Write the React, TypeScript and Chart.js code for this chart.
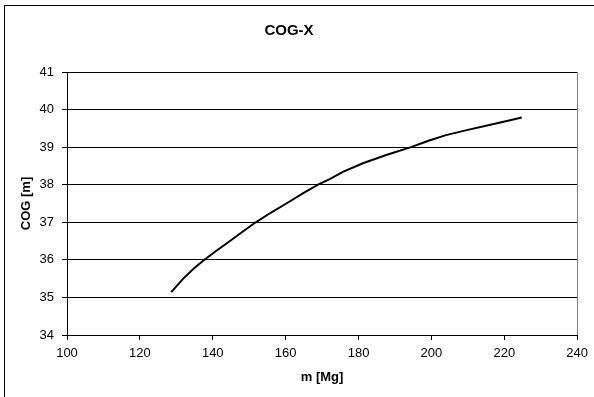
import React, { useEffect, useRef } from "react";
import { Chart, registerables } from "chart.js";

Chart.register(...registerables);

const massMg: number[] = [128.6, 131.9, 134.8, 137.8, 140.8, 143.7, 147.8, 151.8, 156.0, 160.2, 164.6, 168.9, 172.1, 175.7, 181.2, 187.6, 194.4, 199.2, 204.0, 210.0, 215.9, 220.4, 224.8];
const cogM: number[] = [35.14, 35.50, 35.77, 36.01, 36.23, 36.43, 36.72, 37.00, 37.26, 37.50, 37.76, 38.00, 38.15, 38.34, 38.57, 38.79, 39.00, 39.17, 39.32, 39.46, 39.59, 39.69, 39.79];

const xTicks: number[] = [100, 120, 140, 160, 180, 200, 220, 240];
const yTicks: number[] = [34, 35, 36, 37, 38, 39, 40, 41];

const chartTitle = "COG-X";
const xTitle = "m [Mg]";
const yTitle = "COG [m]";

const FONT = "'Liberation Sans', Arial, sans-serif";

export default function App() {
  const ref = useRef<HTMLCanvasElement | null>(null);

  useEffect(() => {
    if (!ref.current) return;
    const borderPlugin = {
      id: "plotBorder",
      afterDraw(chart: any) {
        const { ctx, chartArea } = chart;
        ctx.save();
        ctx.strokeStyle = "#808080";
        ctx.lineWidth = 1;
        ctx.beginPath();
        ctx.moveTo(Math.round(chartArea.right) + 0.5, chartArea.top);
        ctx.lineTo(Math.round(chartArea.right) + 0.5, chartArea.bottom);
        ctx.stroke();
        ctx.restore();
      },
    };
    const chart = new Chart(ref.current, {
      type: "line",
      data: {
        datasets: [
          {
            data: massMg.map((m, i) => ({ x: m, y: cogM[i] })),
            borderColor: "#000",
            borderWidth: 2,
            pointRadius: 0,
            tension: 0,
            fill: false,
          },
        ],
      },
      options: {
        responsive: false,
        animation: false,
        layout: { padding: { left: 0, right: 16, top: 0, bottom: 0 } },
        plugins: {
          legend: { display: false },
          tooltip: { enabled: false },
          title: {
            display: true,
            text: chartTitle,
            color: "#000",
            font: { family: FONT, size: 15, weight: "bold" },
            padding: { top: 22, bottom: 32 },
          },
        },
        scales: {
          x: {
            type: "linear",
            min: 100,
            max: 240,
            afterBuildTicks(scale: any) {
              scale.ticks = xTicks.map((v) => ({ value: v }));
            },
            afterFit(scale: any) {
              scale.height = 62;
            },
            ticks: {
              color: "#000",
              font: { family: FONT, size: 13 },
              padding: 6,
              maxRotation: 0,
            },
            grid: {
              drawOnChartArea: false,
              drawTicks: true,
              tickLength: 5,
              color: "#000",
            },
            border: { display: true, color: "#000", width: 1 },
            title: {
              display: true,
              text: xTitle,
              color: "#000",
              font: { family: FONT, size: 13, weight: "bold" },
              padding: { top: 0, bottom: 12 },
            },
          },
          y: {
            type: "linear",
            min: 34,
            max: 41,
            afterBuildTicks(scale: any) {
              scale.ticks = yTicks.map((v) => ({ value: v }));
            },
            afterFit(scale: any) {
              scale.width = 67;
            },
            ticks: {
              color: "#000",
              font: { family: FONT, size: 13 },
              padding: 8,
            },
            grid: {
              drawOnChartArea: true,
              drawTicks: true,
              tickLength: 5,
              color: "#000",
            },
            border: { display: true, color: "#000", width: 1 },
            title: {
              display: true,
              text: yTitle,
              color: "#000",
              font: { family: FONT, size: 13, weight: "bold" },
              padding: { top: 19, bottom: 0 },
            },
          },
        },
      },
      plugins: [borderPlugin],
    } as any);
    return () => chart.destroy();
  }, []);

  return (
    <div style={{ position: "absolute", left: 0, top: 0, width: 594, height: 397, overflow: "hidden", background: "#fff" }}>
      <div
        style={{
          position: "absolute",
          left: 4,
          top: 5,
          width: 620,
          height: 420,
          border: "1px solid #000",
          boxSizing: "border-box",
        }}
      />
      <canvas ref={ref} width={594} height={397} style={{ position: "absolute", left: 0, top: 0, width: 594, height: 397 }} />
    </div>
  );
}
